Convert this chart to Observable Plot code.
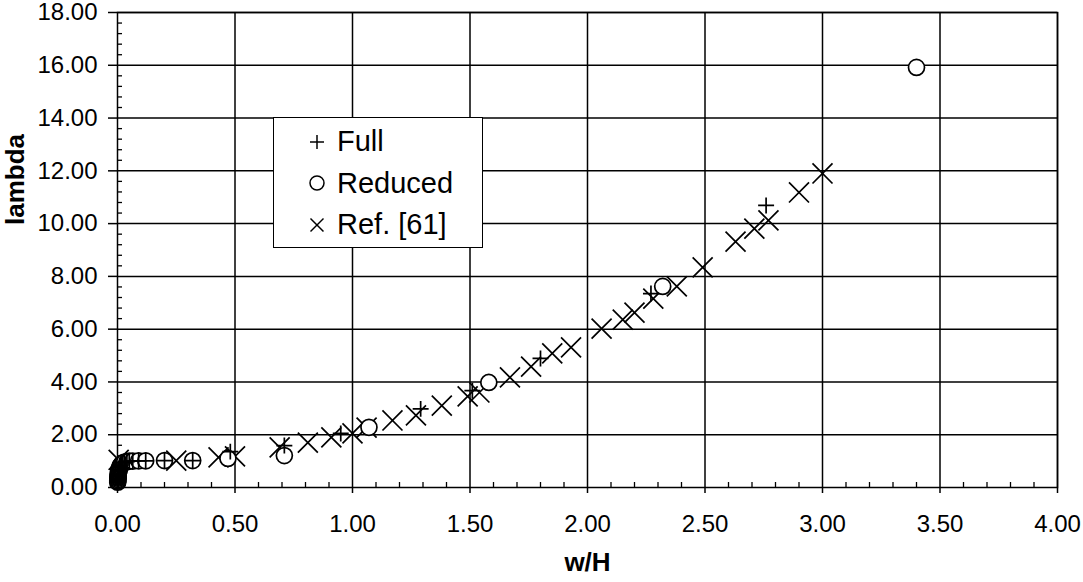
<!DOCTYPE html>
<html>
<head>
<meta charset="utf-8">
<script src="https://cdn.jsdelivr.net/npm/d3@7"></script>
<script src="https://cdn.jsdelivr.net/npm/@observablehq/plot@0.6"></script>
<style>
  body { margin: 0; background: #fff; }
  #chart { position: relative; width: 1083px; height: 582px; font-family: "Liberation Sans", Arial, sans-serif; }
  #chart > svg { position: absolute; left: 0; top: 0; }
  .legend { position: absolute; left: 273px; top: 117px; width: 210px; height: 131px; box-sizing: border-box;
            border: 1.5px solid #000; background: #fff; padding-top: 3px; }
  .legend .row { display: flex; align-items: center; height: 41.5px; font-size: 29px; color: #000; }
  .legend .row svg { display: block; margin-left: 35px; margin-right: 12px; overflow: visible; }
</style>
</head>
<body>
<div id="chart"></div>
<script>
// Aspect ratio w/H and eigenvalue lambda for the three data sets
const fullW      = [0.001, 0.001, 0.002, 0.002, 0.002, 0.003, 0.003, 0.004, 0.005, 0.006, 0.007, 0.009, 0.011, 0.014, 0.018, 0.023, 0.030, 0.040, 0.05, 0.065, 0.09, 0.12, 0.20, 0.32, 0.48, 0.71, 0.95, 1.29, 1.51, 1.80, 2.27, 2.76];
const fullLambda = [0.20, 0.25, 0.30, 0.35, 0.40, 0.45, 0.50, 0.55, 0.60, 0.65, 0.70, 0.75, 0.80, 0.85, 0.89, 0.93, 0.96, 0.98, 1.00, 1.00, 1.01, 1.01, 1.02, 1.02, 1.36, 1.59, 2.05, 2.98, 3.67, 4.89, 7.35, 10.69];

const reducedW      = [0.001, 0.001, 0.002, 0.002, 0.002, 0.003, 0.003, 0.004, 0.005, 0.006, 0.007, 0.009, 0.011, 0.014, 0.018, 0.023, 0.030, 0.040, 0.05, 0.065, 0.09, 0.12, 0.20, 0.32, 0.47, 0.71, 1.07, 1.58, 2.32, 3.40];
const reducedLambda = [0.20, 0.25, 0.30, 0.35, 0.40, 0.45, 0.50, 0.55, 0.60, 0.65, 0.70, 0.75, 0.80, 0.85, 0.89, 0.93, 0.96, 0.98, 1.00, 1.00, 1.01, 1.01, 1.02, 1.02, 1.10, 1.21, 2.28, 3.98, 7.62, 15.92];

const refW      = [0.005, 0.25, 0.43, 0.50, 0.69, 0.81, 0.91, 1.00, 1.06, 1.17, 1.27, 1.38, 1.49, 1.54, 1.67, 1.76, 1.85, 1.93, 2.06, 2.15, 2.20, 2.28, 2.38, 2.49, 2.63, 2.71, 2.77, 2.90, 3.00];
const refLambda = [1.05, 1.02, 1.14, 1.18, 1.52, 1.70, 1.90, 2.05, 2.27, 2.54, 2.73, 3.10, 3.45, 3.60, 4.17, 4.58, 5.08, 5.31, 6.02, 6.36, 6.63, 7.16, 7.62, 8.34, 9.32, 9.81, 10.12, 11.18, 11.90];

// Axis ticks
const xMajor = [0, 0.5, 1, 1.5, 2, 2.5, 3, 3.5, 4];
const yMajor = [0, 2, 4, 6, 8, 10, 12, 14, 16, 18];
const xMinor = d3.range(0, 41).map(i => i / 10).filter(v => Math.round(v * 10) % 5 !== 0);
const yMinor = d3.range(0, 46).map(i => i * 0.4).filter(v => Math.abs(v / 2 - Math.round(v / 2)) > 1e-6);

const legendItems = ["Full", "Reduced", "Ref. [61]"];

const toRows = (ws, ls) => ws.map((w, i) => ({w, lambda: ls[i]}));
const full = toRows(fullW, fullLambda);
const reduced = toRows(reducedW, reducedLambda);
const ref = toRows(refW, refLambda);

const fmt = d3.format(".2f");
const ink = "#000";

const chart = Plot.plot({
  width: 1083,
  height: 582,
  marginLeft: 117,
  marginRight: 26,
  marginTop: 12,
  marginBottom: 95,
  style: {fontFamily: "'Liberation Sans', Arial, sans-serif", fontSize: "24px", color: ink, background: "#fff", overflow: "visible"},
  x: {domain: [0, 4]},
  y: {domain: [0, 18]},
  marks: [
    Plot.gridX(xMajor.filter(v => v > 0), {stroke: ink, strokeOpacity: 1, strokeWidth: 1.5}),
    Plot.gridY(yMajor.filter(v => v > 0), {stroke: ink, strokeOpacity: 1, strokeWidth: 1.5}),
    Plot.frame({stroke: ink, strokeWidth: 1.5}),
    // minor ticks point into the plot area
    Plot.axisX(xMinor, {tickSize: 5, dy: -5, tickFormat: () => "", label: null, strokeWidth: 1.3}),
    Plot.axisY(yMinor, {tickSize: 5, dx: 5, tickFormat: () => "", label: null, strokeWidth: 1.3}),
    // major ticks with labels
    Plot.axisX(xMajor, {tickSize: 6, tickPadding: 21, tickFormat: fmt, label: null, strokeWidth: 1.5}),
    Plot.axisY(yMajor, {tickSize: 9, tickPadding: 11, tickFormat: fmt, label: null, strokeWidth: 1.5}),
    // data
    Plot.dot(ref, {x: "w", y: "lambda", symbol: "times", r: 9.15, stroke: ink, strokeWidth: 1.7}),
    Plot.dot(reduced, {x: "w", y: "lambda", symbol: "circle", r: 8, stroke: ink, fill: "#fff", strokeWidth: 1.7}),
    Plot.dot(full, {x: "w", y: "lambda", symbol: "plus", r: 5.2, stroke: ink, strokeWidth: 1.7}),
    // axis titles
    Plot.text(["w/H"], {frameAnchor: "bottom", dy: 83, fontWeight: "bold", fontSize: 26, fill: ink}),
    Plot.text(["lambda"], {frameAnchor: "left", dx: -102, dy: -25, rotate: -90, fontWeight: "bold", fontSize: 26, fill: ink})
  ]
});

const root = document.getElementById("chart");
root.appendChild(chart);

// legend box
const symbols = {
  "Full": '<line x1="-7" y1="0" x2="7" y2="0"/><line x1="0" y1="-7" x2="0" y2="7"/>',
  "Reduced": '<circle r="7" fill="none"/>',
  "Ref. [61]": '<line x1="-6.5" y1="-6.5" x2="6.5" y2="6.5"/><line x1="-6.5" y1="6.5" x2="6.5" y2="-6.5"/>'
};
const legend = document.createElement("div");
legend.className = "legend";
legend.innerHTML = legendItems.map(name =>
  `<div class="row"><svg width="16" height="16" viewBox="-8 -8 16 16"><g stroke="#000" stroke-width="1.5" fill="none">${symbols[name]}</g></svg><span>${name}</span></div>`
).join("");
root.appendChild(legend);
</script>
</body>
</html>
